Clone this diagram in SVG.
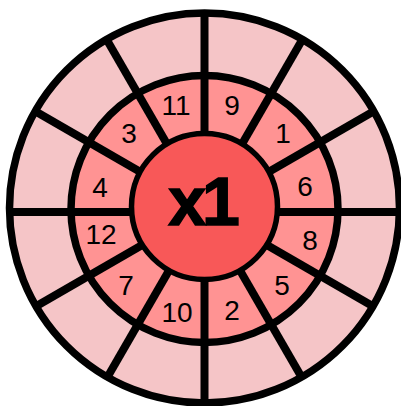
<svg xmlns="http://www.w3.org/2000/svg" width="401" height="406" viewBox="0 0 401 406">
<style>
.ring{stroke:#000;stroke-width:7.5}
.spoke{stroke:#000;stroke-width:8;stroke-linecap:butt}
.num{font-family:"Liberation Sans",Arial,sans-serif;font-size:28px;text-anchor:middle;fill:#000}
.big{font-family:"Liberation Sans",Arial,sans-serif;font-size:68px;font-weight:bold;text-anchor:middle;fill:#000;stroke:#000;stroke-width:1.5;letter-spacing:-4px}
</style>
<g id="outer-ring">
<circle cx="204.5" cy="208" r="195" fill="#F5C5C7" class="ring"/>
</g>
<g id="middle-ring">
<circle cx="204.5" cy="209" r="133.5" fill="#FF9393" class="ring"/>
</g>
<g id="spokes">
<line class="spoke" x1="204.5" y1="13" x2="204.5" y2="405"/>
<line class="spoke" x1="302.5" y1="39.3" x2="106.5" y2="378.7"/>
<line class="spoke" x1="374.2" y1="111" x2="34.8" y2="307"/>
<line class="spoke" x1="400.5" y1="212" x2="8.5" y2="212"/>
<line class="spoke" x1="374.2" y1="307" x2="34.8" y2="111"/>
<line class="spoke" x1="302.5" y1="378.7" x2="106.5" y2="39.3"/>
</g>
<g id="center">
<circle cx="204.5" cy="206.5" r="73" fill="#F85858" stroke="#000" stroke-width="5.5"/>
<text class="big" x="202" y="225">x1</text>
</g>
<g id="labels">
<text class="num" x="176" y="115">11</text>
<text class="num" x="232" y="115">9</text>
<text class="num" x="129" y="143">3</text>
<text class="num" x="283" y="143">1</text>
<text class="num" x="100" y="197">4</text>
<text class="num" x="305" y="196">6</text>
<text class="num" x="101" y="244">12</text>
<text class="num" x="310" y="250">8</text>
<text class="num" x="126" y="295">7</text>
<text class="num" x="282" y="295">5</text>
<text class="num" x="177" y="322">10</text>
<text class="num" x="232" y="320">2</text>
</g>
</svg>
